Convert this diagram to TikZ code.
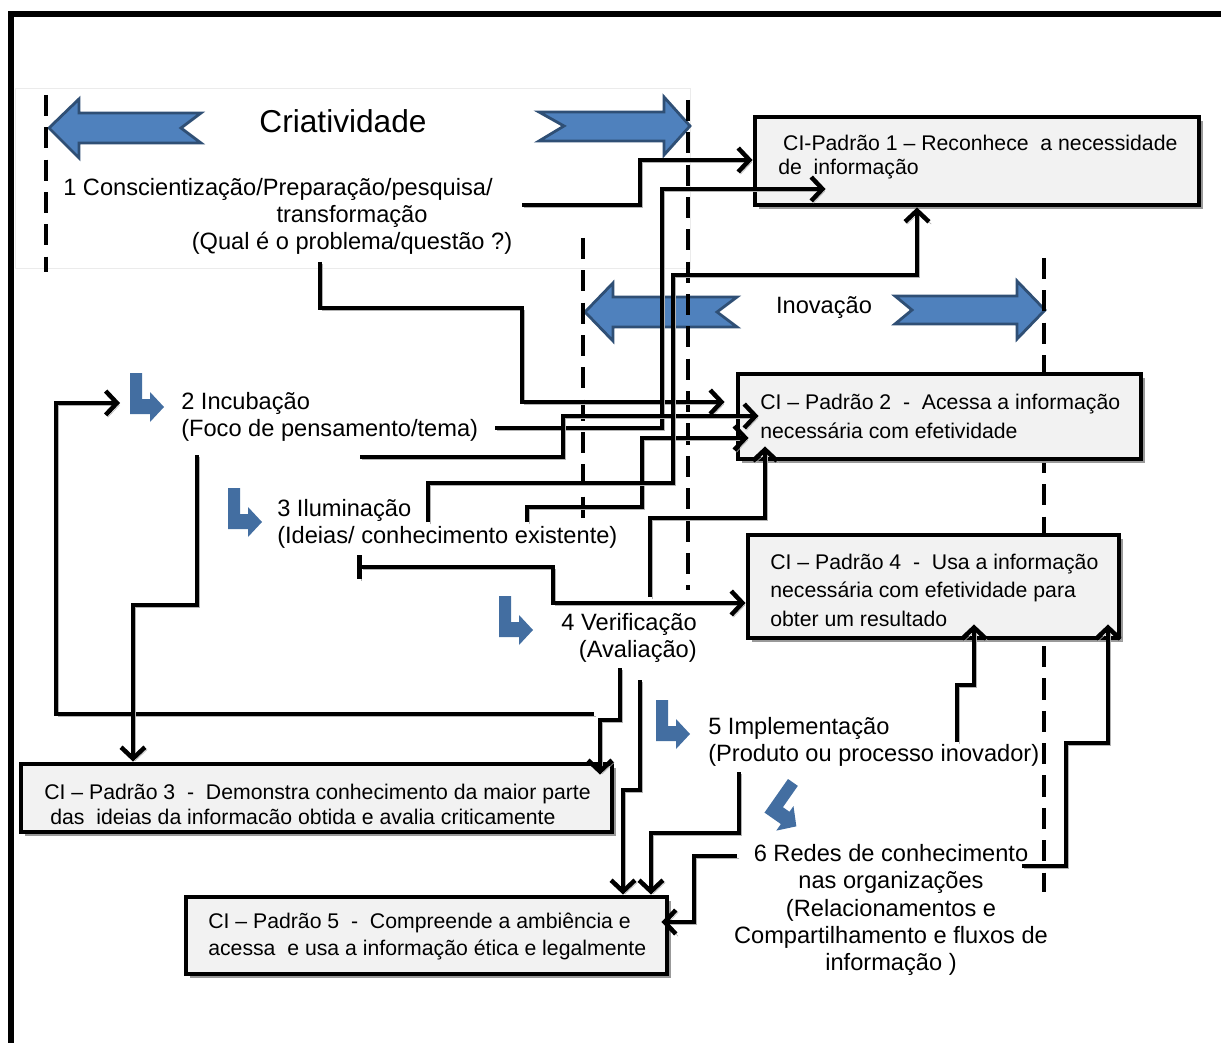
\documentclass[tikz,border=0pt]{standalone}
\usepackage{fontspec}
\setmainfont{Liberation Sans}
\usetikzlibrary{arrows.meta}
\usetikzlibrary{calc}
\usetikzlibrary{fit}
\usetikzlibrary{shadows}
\definecolor{arrowblue}{HTML}{4F81BD}
\definecolor{arrowedge}{HTML}{2F4F75}
\definecolor{boxgray}{HTML}{F2F2F2}

\tikzset{
  cibox/.style={draw, line width=3.5pt, fill=boxgray, inner sep=0pt,
    drop shadow={shadow xshift=2.5pt, shadow yshift=-2.5pt, fill=black!40, opacity=1}},
  citext/.style={align=left, inner sep=0pt, anchor=west},
  stage/.style={font=\fontsize{16.8}{19.4}\selectfont, inner sep=0pt},
  phase/.style={line width=3.5pt, dash pattern=on 15pt off 8pt},
  blockarrow/.style={fill=arrowblue, draw=arrowedge, line width=2pt, line join=miter},
  link/.style={line width=3.2pt, line join=miter, ->,
    preaction={draw=black!30, transform canvas={xshift=1.6pt, yshift=-1.6pt}}},
  >={Straight Barb[length=8pt, width=17pt]},
  bentarrow/.pic={
    \fill[arrowblue!85!black] (0,0) -- (12,0) -- (12,26) -- (20,26) -- (20,19)
      -- (34,34) -- (20,49) -- (20,41) -- (0,41) -- cycle;
  }
}

\begin{document}
\begin{tikzpicture}[x=0.025cm, y=-0.025cm]
  \useasboundingbox (0,0) rectangle (1221,1043);
  \draw[line width=4pt] (11,1043) -- (11,14) -- (1221,14);
  \draw[draw=black!8, fill=white] (15,88) rectangle (690,268);

  \draw[blockarrow] (49,128) -- (79,99) -- (79,113) -- (201,113) -- (181,128)
    -- (201,143) -- (79,143) -- (79,158) -- cycle;
  \draw[blockarrow] (539,112) -- (664,112) -- (664,97) -- (690,126) -- (664,155)
    -- (664,141) -- (539,141) -- (564,126) -- cycle;
  \draw[blockarrow] (585,312) -- (613,283) -- (613,297) -- (737,297) -- (717,312)
    -- (737,327) -- (613,327) -- (613,341) -- cycle;
  \draw[blockarrow] (895,296) -- (1017,296) -- (1017,281) -- (1045,310) -- (1017,339)
    -- (1017,324) -- (895,324) -- (912,310) -- cycle;

  \draw[phase] (46,95) -- (46,272);
  \draw[phase] (688,100) -- (688,590);
  \draw[phase] (583,238) -- (583,524);
  \draw[phase] (1044,258) -- (1044,892);

  \pic (bent2) at (130,373) {bentarrow};
  \pic (bent3) at (228,488) {bentarrow};
  \pic (bent4) at (499,596) {bentarrow};
  \pic (bent5) at (656,700) {bentarrow};
  \pic[rotate=-35] (bent6) at (788,779) {bentarrow};

  \begin{scope}[every node/.style={cibox}]
    \node[fit={(755,117) (1199,205)}] (ci1) {};
    \node[fit={(738,374) (1141,459)}] (ci2) {};
    \node[fit={(748,535) (1119,638)}] (ci4) {};
    \node[fit={(21,764) (612,832)}] (ci3) {};
    \node[fit={(186,897) (667,974)}] (ci5) {};
  \end{scope}

  \node[citext, font=\fontsize{15.1}{17.1}\selectfont] (ci1txt) at (778,157)
    {\hspace*{3.5pt}CI-Padrão 1 – Reconhece\ \ a necessidade\\de\ \ informação};
  \node[citext, font=\fontsize{15.1}{20.6}\selectfont] (ci2txt) at (760,416)
    {CI – Padrão 2\ \ -\ \ Acessa a informação\\necessária com efetividade};
  \node[citext, font=\fontsize{15.1}{20.3}\selectfont] (ci4txt) at (770,590)
    {CI – Padrão 4\ \ -\ \ Usa a informação\\necessária com efetividade para\\obter um resultado};
  \node[citext, font=\fontsize{15.1}{17.8}\selectfont] (ci3txt) at (44,804)
    {CI – Padrão 3\ \ -\ \ Demonstra conhecimento da maior parte\\\hspace*{4.3pt}das\ \ ideias da informacão obtida e avalia criticamente};
  \node[citext, font=\fontsize{15.1}{19.2}\selectfont] (ci5txt) at (208,937)
    {CI – Padrão 5\ \ -\ \ Compreende a ambiência e\\acessa\ \ e usa a informação ética e legalmente};

  \node[font=\fontsize{22.5}{26}\selectfont, inner sep=0pt] (criat) at (343,121) {Criatividade};
  \node[stage] (inov) at (824,308) {Inovação};

  \begin{scope}[every node/.style={stage}]
    \node[anchor=west] (s1) at (63,189) {1 Conscientização/Preparação/pesquisa/};
    \node[align=center] (s1b) at (352,230) {transformação\\(Qual é o problema/questão ?)};
    \node[align=left, anchor=west] (s2) at (181,417) {2 Incubação\\(Foco de pensamento/tema)};
    \node[align=left, anchor=west] (s3) at (277,524) {3 Iluminação\\(Ideias/ conhecimento existente)};
    \node[align=right, anchor=east] (s4) at (697,638) {4 Verificação\\(Avaliação)};
    \node[align=left, anchor=west] (s5) at (708,742) {5 Implementação\\(Produto ou processo inovador)};
    \node[align=center] (s6) at (891,910) {6 Redes de conhecimento\\nas organizações\\(Relacionamentos e\\Compartilhamento e fluxos de\\informação )};
  \end{scope}

  \coordinate (st1a) at (522,205);
  \coordinate (st1b) at (320,262);
  \coordinate (st2a) at (495,428);
  \coordinate (st2b) at (360,457);
  \coordinate (st2c) at (197,455);
  \coordinate (st3a) at (527,522);
  \coordinate (st3b) at (428,522);
  \coordinate (st3c) at (357,567);
  \coordinate (st4a) at (650,597);
  \coordinate (st4b) at (620,668);
  \coordinate (st4c) at (594,714);
  \coordinate (st4d) at (640,680);
  \coordinate (st5a) at (739,772);
  \coordinate (st5b) at (957,742);
  \coordinate (st6a) at (737,856);
  \coordinate (st6b) at (1022,866);
  \coordinate (bent2in) at (120,403);

  \draw[link] (st1a) -- (640,205) |- (ci1.west |- 0,160);
  \draw[link] (st1b) |- (522,308) |- ($(ci2.west |- 0,402)+(-11,0)$);
  \draw[link] (st2a) -| (662,189) -- ($(ci1.west |- 0,189)+(73,0)$);
  \draw[link] (st2b) -| (563,416) -- ($(ci2.west |- 0,416)+(23,0)$);
  \draw[link] (st3a) |- (642,507) |- ($(ci2.west |- 0,438)+(13,0)$);
  \draw[link] (st3b) |- (673,483) |- (917,275) -- (ci1.south -| 917,0);
  \draw[link, {Bar[width=17pt]}->] (st3c) -| (553,603) -- (ci4.west |- 0,603);
  \draw[link] (st4a) |- (765,518) -- ($(ci2.south -| 765,0)+(0,-15)$);
  \draw[link] (st4b) |- (600,720) -- ($(ci3.north -| 600,0)+(0,13)$);
  \draw[link] (st4c) -| (56,403) -- (bent2in);
  \draw[link] (st2c) |- (133,605) -- (ci3.north -| 133,0);
  \draw[link] (st4d) |- (623,790) -- (ci5.north -| 623,0);
  \draw[link] (st5a) |- (651,833) -- (ci5.north -| 651,0);
  \draw[link] (st6a) -| (694,922) -- ($(ci5.east |- 0,922)+(-8,0)$);
  \draw[link] (st5b) |- (974,685) -- ($(ci4.south -| 974,0)+(0,-16)$);
  \draw[link] (st6b) -| (1066,743) -| ($(ci4.south -| 1108,0)+(0,-16)$);
\end{tikzpicture}
\end{document}
